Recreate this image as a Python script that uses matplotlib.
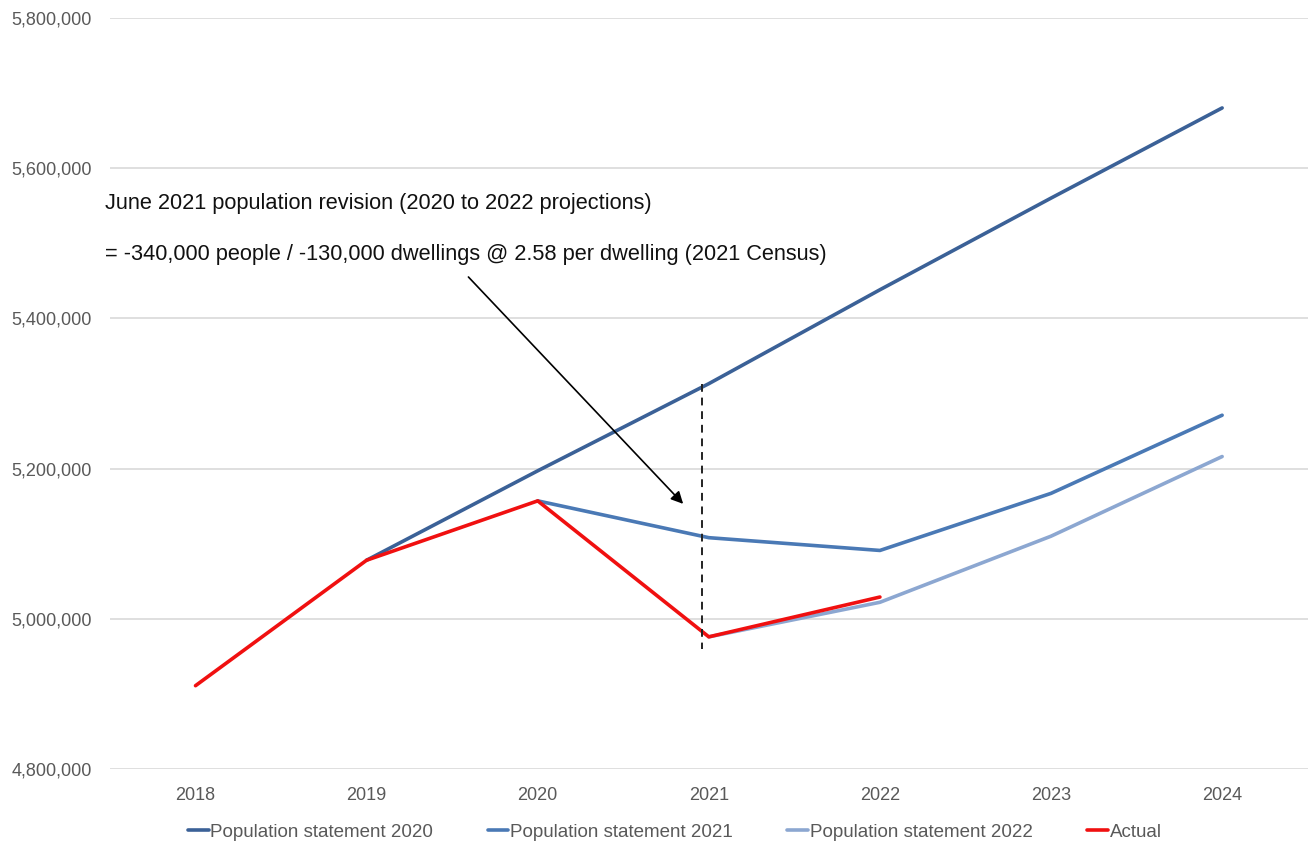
import numpy as np
import matplotlib.pyplot as plt

years = ['2018', '2019', '2020', '2021', '2022', '2023', '2024']

# population by year for each statement (None = no value that year)
stmt_2020 = [None, 5078000, 5197000, 5313000, 5438000, 5560000, 5680000]
stmt_2021 = [None, None, 5157000, 5108000, 5091000, 5167000, 5271000]
stmt_2022 = [None, None, None, 4976000, 5022000, 5110000, 5216000]
actual = [4911000, 5078000, 5157000, 4976000, 5029000, None, None]

note_1 = 'June 2021 population revision (2020 to 2022 projections)'
note_2 = '= -340,000 people / -130,000 dwellings @ 2.58 per dwelling (2021 Census)'

tick_font = 'Liberation Sans'

def to_arr(v):
    return np.array([np.nan if x is None else x for x in v], dtype=float)

fig = plt.figure(figsize=(13.09, 8.47), dpi=100)
ax = fig.add_axes([0.084, 0.092, 0.915, 0.887])

x = np.arange(len(years))
series = [
    (stmt_2020, '#3B6197', 'Population statement 2020'),
    (stmt_2021, '#4A79B5', 'Population statement 2021'),
    (stmt_2022, '#8CA7D1', 'Population statement 2022'),
    (actual, '#F01010', 'Actual'),
]
for vals, col, lab in series:
    ax.plot(x, to_arr(vals), color=col, lw=2.6, label=lab,
            solid_capstyle='round', solid_joinstyle='round')

# dashed marker at the 2021 revision
ax.plot([2.96, 2.96], [stmt_2020[3], 4960000], color='#222222', lw=1.4,
        ls=(0, (4, 3)))

ax.text(-0.53, 5553000, note_1, fontsize=15.7, family='Liberation Sans',
        va='center', ha='left', color='#111111')
ax.text(-0.53, 5485000, note_2, fontsize=15.7, family='Liberation Sans',
        va='center', ha='left', color='#111111')
ax.annotate('', xy=(2.85, 5153000), xytext=(1.595, 5455000),
            arrowprops=dict(arrowstyle='-|>', color='black', lw=1.2,
                            mutation_scale=18, shrinkA=0, shrinkB=0))

ax.set_xlim(-0.5, 6.5)
ax.set_ylim(4800000, 5800000)
ax.set_yticks(np.arange(4800000, 5800001, 200000))
ax.set_yticklabels([f'{v:,}' for v in range(4800000, 5800001, 200000)])
ax.set_xticks(x)
ax.set_xticklabels(years)
ax.grid(axis='y', color='#D9D9D9', lw=1.2)
ax.set_axisbelow(True)
for s in ax.spines.values():
    s.set_visible(False)
ax.tick_params(length=0, labelcolor='#595959')
ax.tick_params(axis='y', labelsize=13, pad=13)
ax.tick_params(axis='x', labelsize=13, pad=13)
for lbl in ax.get_xticklabels() + ax.get_yticklabels():
    lbl.set_family(tick_font)

leg = fig.legend(loc='center', ncol=4, frameon=False, bbox_to_anchor=(0.5155, 0.0177),
                 handlelength=1.1, handletextpad=0.1, columnspacing=2.9,
                 prop={'family': tick_font, 'size': 13.5})
for t in leg.get_texts():
    t.set_color('#595959')

fig.savefig('out.png', dpi=100)
